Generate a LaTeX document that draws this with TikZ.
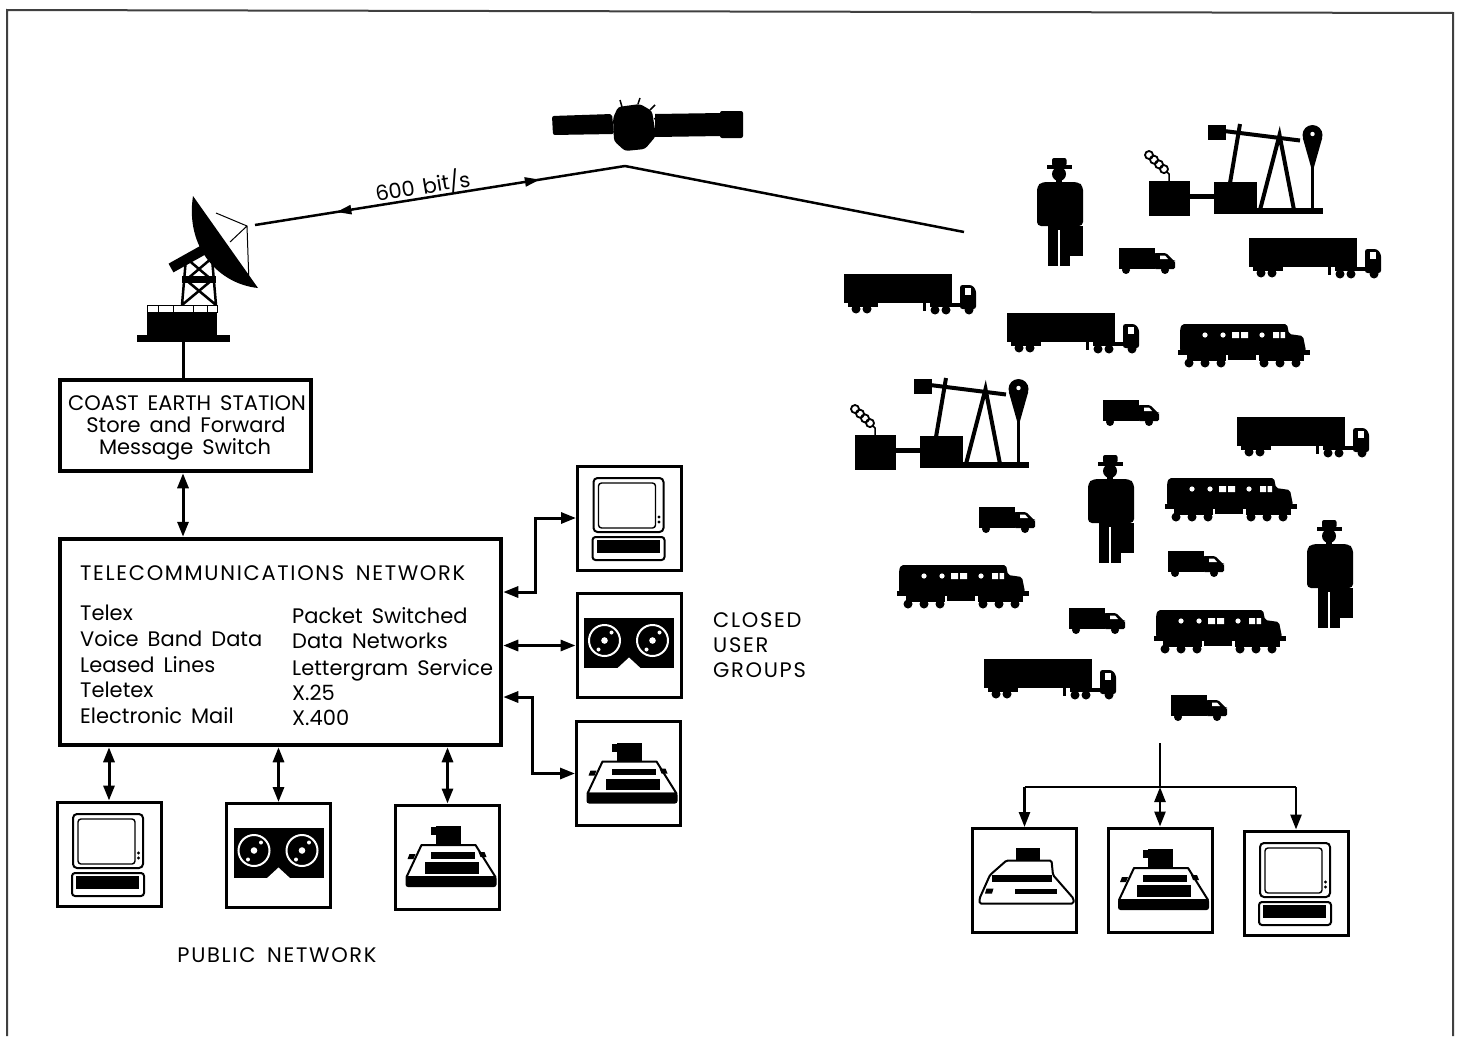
\documentclass[tikz,border=0pt]{standalone}
\usepackage{fontspec}
\setmainfont{Poppins}[WordSpace=1.6]
\usetikzlibrary{arrows.meta,decorations.markings}

\tikzset{
  % semi-trailer truck, facing right, origin at top left
  truck/.pic={
    \fill (0,0) rectangle (108,29);
    \fill (4,28) rectangle (34,33);
    \fill (12,35) circle (4.5) (23,35) circle (4.5);
    \fill (79,29) rectangle (81.5,37);
    \fill (86,29) rectangle (118,33);
    \fill[rounded corners=2.5] (116,35) -- (116,11) -- (128,11) -- (132,16) -- (132,35) -- cycle;
    \fill[white] (121,14) rectangle (127,21);
    \fill (91,36) circle (4.5) (102,36) circle (4.5) (125,36) circle (4.5);
  },
  % small delivery van
  van/.pic={
    \fill (0,0) rectangle (36,21);
    \fill[rounded corners=1.5] (35,21) -- (35,5) -- (47,5) -- (55,13) -- (56,13) -- (56,21) -- cycle;
    \fill[white] (41,7.5) -- (46,7.5) -- (49,11) -- (41,11) -- cycle;
    \fill (7,22) circle (4) (46,22) circle (4);
  },
  % diesel locomotive
  loco/.pic={
    \fill[rounded corners=2] (4,0) -- (109,0) -- (111,10) -- (125,12) -- (128,27) -- (2,27) -- (2,5) -- cycle;
    \fill (0,26) rectangle (132,31);
    \fill (9,30) rectangle (48,37);
    \fill (50,30) rectangle (78,36);
    \fill (81,30) rectangle (126,37);
    \foreach \w in {11,27,43,86,102,118} \fill (\w,39) circle (4.5);
    \fill[white] (27,11) circle (2.6) (45,11) circle (2.6) (84,11) circle (2.6);
    \fill[white] (54,8) rectangle (61,14) (63,8) rectangle (70,14)
                 (95,8) rectangle (101,14) (102.5,8) rectangle (107,14);
  },
  % man with hat and briefcase
  person/.pic={
    \fill[rounded corners=2] (15,0) rectangle (29.5,8);
    \fill (10,6.5) rectangle (35,10.5);
    \fill (22,16) circle (7);
    \fill (19,20) rectangle (25,26);
    \fill[rounded corners=4] (0,68) -- (0,28) -- (5,24) -- (41,24) -- (46,28) -- (46,68) -- cycle;
    \fill (11,66) rectangle (33,108);
    \fill (31,68) rectangle (46,98);
    \draw[white,line width=1.2] (22,72) -- (22,109);
  },
  % oil well pumpjack
  pump/.pic={
    \foreach \i in {0,1,2,3} \draw[line width=1.8] (5+5*\i,32+4.7*\i) circle (4);
    \draw[line width=1.5] (22,48) -- (25,51) -- (25,59);
    \fill (4.5,58) rectangle (46,93);
    \fill (46,71) rectangle (70,76);
    \fill (69.5,59) rectangle (112.5,90);
    \fill (69.5,85) rectangle (178.5,91);
    \draw[line width=4] (116,87) -- (135.5,12) -- (150,87);
    \draw[line width=4] (80,8) -- (156,17.5);
    \fill (64,1.5) rectangle (82,17);
    \draw[line width=4] (96,1) -- (86,60);
    \fill (168.5,12) circle (10);
    \fill (158.8,15) -- (178.2,15) -- (170,44) -- (167,44) -- cycle;
    \draw[line width=3] (168.5,40) -- (168.5,87);
    \fill[white] (168.5,11) circle (2.2);
  },
  % video terminal with keyboard
  terminal/.pic={
    \draw[line width=2,rounded corners=4] (-36,-40) rectangle (34,14);
    \draw[line width=1.4,rounded corners=3] (-31,-35) rectangle (26,10);
    \fill (29.5,-1) circle (1.6) (29.5,4) circle (1.6);
    \draw[line width=2,rounded corners=3] (-37,19) rectangle (35,42);
    \fill (-33,22) rectangle (30,35);
  },
  % magnetic tape unit
  tape/.pic={
    \fill (-45,-28) rectangle (45,22.5);
    \foreach \c in {-24.5,23.5}{
      \draw[white,line width=2] (\c,-5) circle (15.5);
      \fill[white] (\c,-5) circle (3.3);
      \fill[white] (\c+7,-13) circle (2) (\c-6,4) circle (2);
    }
    \fill[white] (0,12) -- (-11.5,22.6) -- (11.5,22.6) -- cycle;
  },
  % printer
  printer/.pic={
    \fill (-12,-31) rectangle (13,-13);
    \fill (-17,-30) rectangle (-11,-22);
    \draw[line width=2,line join=round] (-26,-12) -- (28,-12) -- (48,20) -- (-41,20) -- cycle;
    \fill[rounded corners=2.5] (-42,19) -- (49,19) -- (49,30) -- (-42,30) -- cycle;
    \fill (-17,-5) rectangle (27,1.5);
    \fill (-23,5) rectangle (31,16.5);
    \fill (-38,-3) -- (-32,-3) -- (-34,2) -- (-40,2) -- cycle;
    \fill (31,-5) -- (37,-5) -- (39,0) -- (33,0) -- cycle;
  },
  % teleprinter
  teleprinter/.pic={
    \fill (-8.5,-33) rectangle (15,-20);
    \draw[line width=2,line join=round,rounded corners=1.5]
      (-18,-20) -- (27,-20) -- (28.5,-5.5) -- (49,18) -- (49,23) -- (-45,23) -- (-45,18) -- (-34.5,-5.5) -- cycle;
    \fill (-33,-5.5) rectangle (27,1);
    \fill (-9.5,8) rectangle (32,13.5);
    \fill (-38,8) -- (-31,8) -- (-32.5,13) -- (-39.5,13) -- cycle;
  },
  % satellite with solar panels
  satellite/.pic={
    \fill[rounded corners=2] (-96,-10) -- (-36,-12) -- (-34,8) -- (-95,9) -- cycle;
    \fill[rounded corners=3] (-30,-19) -- (-8,-22) -- (4,-15) -- (8,10) -- (-3,23) -- (-23,25) -- (-34,15) -- (-35,-8) -- cycle;
    \fill (7,-12) -- (74,-13) -- (74,10) -- (7,11) -- cycle;
    \fill[rounded corners=2] (72,-15) rectangle (95,12);
    \draw[line width=1.5] (-26,-19) -- (-28,-26) (-10,-22) -- (-8,-28) (2,-16) -- (7,-21) (6,-7) -- (10,-9);
  },
  % coast earth station dish antenna, origin at foot of mast line
  dish/.pic={
    \fill (-46,-7) rectangle (47,0);
    \fill (-36,-30) rectangle (34,-7);
    \draw[line width=1] (-36,-37) rectangle (34,-30);
    \draw[line width=1] (-25,-37) -- (-25,-30) (-10,-37) -- (-10,-30) (10,-37) -- (10,-30) (24,-37) -- (24,-30);
    \draw[line width=2.5] (-1,-37) -- (3,-84) (33,-37) -- (29,-84)
      (-1,-37) -- (29,-62) (33,-37) -- (3,-62) (3,-62) -- (29,-84) (29,-62) -- (3,-84);
    \fill (-1,-66) rectangle (33,-59);
    \draw[line width=10] (-12,-74) -- (22,-93);
    \fill (10,-146) .. controls (2,-94) and (36,-58) .. (75,-54) -- cycle;
    \draw[line width=1] (33,-129) -- (64,-116) -- (66,-58) (64,-116) -- (47,-100);
  }
}

\begin{document}
\begin{tikzpicture}[x=1pt,y=-1pt,
  tipA/.tip={Triangle[length=15pt,width=11pt]},
  devbox/.style={draw,line width=3pt,minimum width=104pt,minimum height=104pt,inner sep=0pt},
  mainbox/.style={draw,line width=4.5pt,inner sep=0pt},
  txt/.style={font=\fontsize{21}{25}\selectfont,inner sep=0pt},
  caps/.style={txt,font=\fontsize{21}{25}\selectfont\addfontfeatures{LetterSpace=8}},
  bus/.style={line width=3pt},
  twoway/.style={bus,tipA-tipA},
  thinbus/.style={line width=2.5pt},
  down/.style={thinbus,-tipA},
  frame/.style={draw=black!75,line width=2pt}
]
\useasboundingbox (0,0) rectangle (1461,1036);
\draw[frame] (7,1036) -- (7,10) -- (1453,13) -- (1453,1036);

% ---- satellite link ----
\pic at (648,126) {satellite};
\coordinate (satfoot) at (625,166);
\pic at (183,342) {dish};
\coordinate (antfoot) at (183,342);
\coordinate (feed) at (255,225);
\coordinate (fleet) at (964,232);
\draw[line width=2.5pt,postaction={decorate},decoration={markings,
   mark=at position 0.22 with {\arrowreversed{Triangle[length=15pt,width=9pt]}},
   mark=at position 0.77 with {\arrow{Triangle[length=15pt,width=9pt]}}}]
   (feed) -- (satfoot);
\draw[line width=2.5pt] (satfoot) -- (fleet);
\node[txt,anchor=base,rotate=9.3] (rate) at (424,194) {600\hspace{8pt}bit/s};

% ---- coast earth station ----
\node[mainbox,minimum width=251pt,minimum height=91pt] (ces) at (185.5,425.5) {};
\node[txt,anchor=base] (ces1) at (187,410) {COAST EARTH STATION};
\node[txt,anchor=base] (ces2) at (186,432) {Store and Forward};
\node[txt,anchor=base] (ces3) at (185,454) {Message Switch};
\draw[bus] (antfoot) -- (antfoot |- ces.north);

% ---- telecommunications network ----
\node[mainbox,minimum width=441pt,minimum height=206pt] (tn) at (280.5,642) {};
\node[caps,anchor=base west] (tnh) at (80,580) {TELECOMMUNICATIONS NETWORK};
\node[txt,anchor=base west] (l1) at (80,620) {Telex};
\node[txt,anchor=base west] (l2) at (80,646) {Voice Band Data};
\node[txt,anchor=base west] (l3) at (80,672) {Leased Lines};
\node[txt,anchor=base west] (l4) at (80,697) {Teletex};
\node[txt,anchor=base west] (l5) at (80,723) {Electronic Mail};
\node[txt,anchor=base west] (r1) at (292,623) {Packet Switched};
\node[txt,anchor=base west] (r2) at (292,648) {Data Networks};
\node[txt,anchor=base west] (r3) at (292,675) {Lettergram Service};
\node[txt,anchor=base west] (r4) at (292,700) {X.25};
\node[txt,anchor=base west] (r5) at (292,725) {X.400};
\draw[twoway] (ces.south -| antfoot) -- (antfoot |- tn.north);

% ---- closed user groups ----
\node[devbox] (cA) at (629.5,518) {};
\node[devbox] (cB) at (629,645.5) {};
\node[devbox] (cC) at (628.5,773.5) {};
\pic at (cA.center) {terminal};
\pic at (cB.center) {tape};
\pic at (cC.center) {printer};
\coordinate (j1) at (535,592);
\coordinate (j3) at (532.5,697);
\draw[twoway] (tn.east |- j1) -- (j1) |- (cA.west);
\draw[twoway] (tn.east |- cB.west) -- (cB.west);
\draw[twoway] (tn.east |- j3) -- (j3) |- (cC.west);
\node[caps,anchor=base west] (cug1) at (713,627) {CLOSED};
\node[caps,anchor=base west] (cug2) at (713,652) {USER};
\node[caps,anchor=base west] (cug3) at (713,677) {GROUPS};

% ---- public network ----
\node[devbox] (pA) at (109,854) {};
\node[devbox] (pB) at (278.5,855.5) {};
\node[devbox] (pC) at (447.5,857) {};
\pic at (pA.center) {terminal};
\pic at (pB.center) {tape};
\pic at (pC.center) {printer};
\draw[twoway] (pA.north |- tn.south) -- (pA.north);
\draw[twoway] (pB.north |- tn.south) -- (pB.north);
\draw[twoway] (pC.north |- tn.south) -- (pC.north);
\node[caps,anchor=base] (pub) at (277,962) {PUBLIC NETWORK};

% ---- mobile users ----
\pic at (1144,123) {pump};
\pic at (850,377) {pump};
\pic at (1037,158) {person};
\pic at (1088,455) {person};
\pic at (1307,520) {person};
\pic at (1249,238) {truck};
\pic at (844,274) {truck};
\pic at (1007,313) {truck};
\pic at (1237,417) {truck};
\pic at (984,659) {truck};
\pic at (1119,248) {van};
\pic at (1103,400) {van};
\pic at (979,507) {van};
\pic at (1168,551) {van};
\pic at (1069,608) {van};
\pic at (1171,695) {van};
\pic at (1178,324) {loco};
\pic at (1165,478) {loco};
\pic at (897,565) {loco};
\pic at (1154,610) {loco};

% ---- fleet terminals ----
\node[devbox] (rA) at (1024.5,880.5) {};
\node[devbox] (rB) at (1160,880) {};
\node[devbox] (rC) at (1296,883) {};
\pic at (rA.center) {teleprinter};
\pic at (rB.center) {printer};
\pic at (rC.center) {terminal};
\coordinate (drop) at (1160,743);
\coordinate (hub) at (1160,787);
\draw[line width=2pt] (drop) -- (hub);
\draw[thinbus] (rA.north |- hub) -- (rC.north |- hub);
\draw[down] (rA.north |- hub) -- (rA.north);
\draw[down] (rC.north |- hub) -- (rC.north);
\draw[thinbus,tipA-tipA] (hub) -- (rB.north);
\end{tikzpicture}
\end{document}
